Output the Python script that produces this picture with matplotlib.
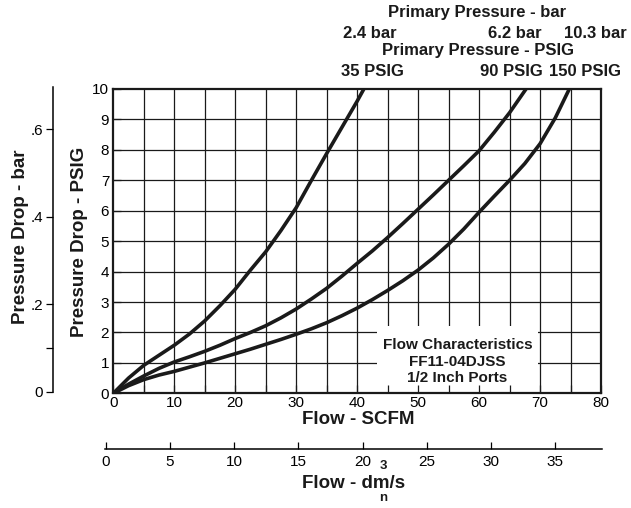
import matplotlib
matplotlib.use('Agg')
import matplotlib.pyplot as plt
from matplotlib.patches import Rectangle

plt.rcParams['font.family'] = ['Liberation Sans', 'DejaVu Sans']

W, H = 631, 508

# curves: flow (SCFM) vs pressure drop (PSIG)
flow_35 = [0, 2.5, 5, 7.5, 10, 12.5, 15, 17.5, 20, 22.5, 25, 27.5, 30, 32.5, 35, 37.5, 40, 41.1]
drop_35 = [0, 0.5, 0.92, 1.25, 1.58, 1.95, 2.38, 2.88, 3.42, 4.05, 4.65, 5.35, 6.1, 7.0, 7.88, 8.74, 9.6, 10.0]

flow_90 = [0, 2.5, 5, 7.5, 10, 12.5, 15, 17.5, 20, 22.5, 25, 27.5, 30, 32.5, 35, 37.5, 40,
           42.5, 45, 47.5, 50, 52.5, 55, 57.5, 60, 62.5, 65, 67.7]
drop_90 = [0, 0.3, 0.57, 0.82, 1.03, 1.2, 1.38, 1.58, 1.8, 2.0, 2.22, 2.48, 2.77, 3.1, 3.45, 3.85, 4.27,
           4.68, 5.12, 5.58, 6.05, 6.52, 7.0, 7.48, 7.97, 8.58, 9.22, 10.0]

flow_150 = [0, 2.5, 5, 7.5, 10, 12.5, 15, 17.5, 20, 22.5, 25, 27.5, 30, 32.5, 35, 37.5, 40,
            42.5, 45, 47.5, 50, 52.5, 55, 57.5, 60, 62.5, 65, 67.5, 70, 72.5, 74.8]
drop_150 = [0, 0.25, 0.45, 0.6, 0.72, 0.86, 1.0, 1.15, 1.3, 1.45, 1.61, 1.77, 1.94, 2.12, 2.32, 2.55, 2.8,
            3.08, 3.38, 3.7, 4.05, 4.45, 4.9, 5.4, 5.95, 6.48, 7.0, 7.55, 8.2, 9.05, 10.0]

x_ticks = list(range(0, 81, 10))
x_grid = list(range(5, 80, 5))
y_ticks = list(range(0, 11))
bar_ticks = [0, 0.1, 0.2, 0.4, 0.6]
bar_labels = ['0', '', '.2', '.4', '.6']
dm3_ticks = list(range(0, 36, 5))

top_bar = ['2.4 bar', '6.2 bar', '10.3 bar']
top_psig = ['35 PSIG', '90 PSIG', '150 PSIG']
box_lines = ['Flow Characteristics', 'FF11-04DJSS', '1/2 Inch Ports']


def fx(x):
  return x / W

def fy(y):
  return 1 - y / H


fig = plt.figure(figsize=(W / 100, H / 100), dpi=100)

# main chart
ax = fig.add_axes([fx(113.3), fy(393.3), (601 - 113.3) / W, (393.3 - 89) / H])
ax.set_xlim(0, 80)
ax.set_ylim(0, 10)
ax.vlines(x_grid, 0, 10, colors='#1a1a1a', lw=0.9, zorder=1)
ax.hlines(y_ticks[1:-1], 0, 80, colors='#1a1a1a', lw=0.9, zorder=1)
ax.add_patch(Rectangle((43.3, 0), 26.3, 2.2, facecolor='white', edgecolor='none', zorder=1.2))
ax.set_axisbelow(False)
for fl, dr in [(flow_35, drop_35), (flow_90, drop_90), (flow_150, drop_150)]:
  ax.plot(fl, dr, color='#1a1a1a', lw=2.6, solid_capstyle='butt', solid_joinstyle='round', zorder=3)
ax.set_xticks(x_ticks)
ax.set_xticks(x_grid, minor=True)
ax.set_yticks(y_ticks)
ax.tick_params(which='both', direction='in', length=6, width=0.9, color='#1a1a1a', labelsize=11, pad=2)
ax.tick_params(axis='y', pad=3)
for s in ax.spines.values():
  s.set_linewidth(1.6)
  s.set_color('#1a1a1a')

for i, t in enumerate(box_lines):
  fig.text(fx(457.5), fy(345 + i * 16.5), t, ha='center', va='center',
           fontsize=11, fontweight='bold', color='#1a1a1a', zorder=5)

# bar scale on the left
axb = fig.add_axes([fx(52.7), fy(391.7), 0.0005, (391.7 - 86.7) / H])
axb.set_ylim(0, 0.6975)
for k in ['top', 'right', 'bottom']:
  axb.spines[k].set_visible(False)
axb.spines['left'].set_linewidth(1.1)
axb.set_xticks([])
axb.set_yticks(bar_ticks)
axb.set_yticklabels(bar_labels)
axb.tick_params(axis='y', direction='out', length=5, width=0.9, labelsize=11, pad=2)
axb.patch.set_visible(False)

# dm3/s scale at the bottom
axd = fig.add_axes([fx(105), fy(449), (602 - 105) / W, 0.0005])
axd.set_xlim(-0.055, 38.65)
for k in ['top', 'right', 'left']:
  axd.spines[k].set_visible(False)
axd.spines['bottom'].set_linewidth(1.1)
axd.set_yticks([])
axd.set_xticks(dm3_ticks)
axd.tick_params(axis='x', direction='in', length=5, width=0.9, labelsize=11, pad=4)
axd.patch.set_visible(False)

# labels
bold = dict(fontweight='bold', color='#1a1a1a')
fig.text(fx(358.5), fy(420), 'Flow - SCFM', ha='center', va='center', fontsize=13.5, **bold)
fig.text(fx(302), fy(484), 'Flow - dm/s', ha='left', va='center', fontsize=13.5, **bold)
fig.text(fx(383.5), fy(466), '3', ha='center', va='center', fontsize=9.5, **bold)
fig.text(fx(383), fy(498), 'n', ha='center', va='center', fontsize=9.5, **bold)
fig.text(fx(80), fy(241.5), 'Pressure Drop - PSIG', ha='center', va='center', rotation=90, fontsize=13.5, **bold)
fig.text(fx(20.5), fy(237), 'Pressure Drop - bar', ha='center', va='center', rotation=90, fontsize=13.5, **bold)

fig.text(fx(477), fy(13), 'Primary Pressure - bar', ha='center', va='center', fontsize=12, **bold)
fig.text(fx(478), fy(51), 'Primary Pressure - PSIG', ha='center', va='center', fontsize=12, **bold)
for t, xc in zip(top_bar, [370, 515, 595]):
  fig.text(fx(xc), fy(33), t, ha='center', va='center', fontsize=12, **bold)
for t, xc in zip(top_psig, [372, 511, 585]):
  fig.text(fx(xc), fy(72), t, ha='center', va='center', fontsize=12, **bold)

fig.savefig('out.png', dpi=100)
